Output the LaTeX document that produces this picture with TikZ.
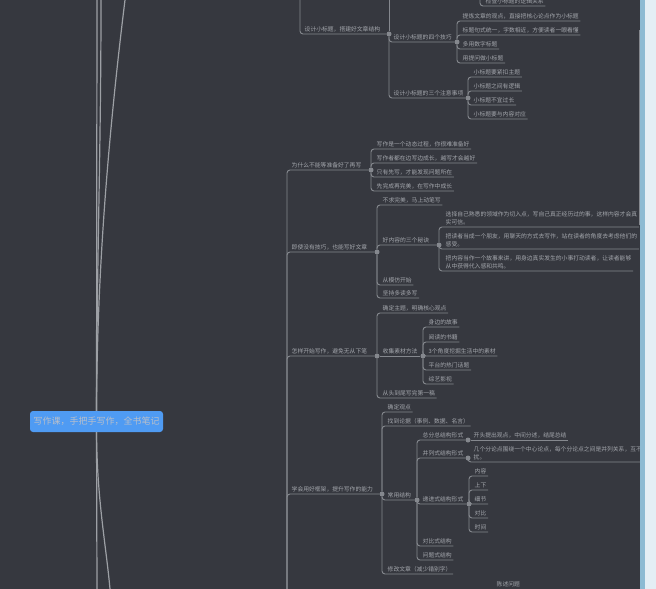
\documentclass[tikz,border=0pt]{standalone}
\usepackage{fontspec}
\newfontfamily\cjk{Noto Sans CJK SC}
\definecolor{canvas}{HTML}{36383F}
\definecolor{branchline}{HTML}{85888E}
\definecolor{topictext}{HTML}{A4A7AD}
\definecolor{rootblue}{HTML}{4F9BF3}
\definecolor{roottext}{HTML}{B9BFCA}
\definecolor{trackblue}{HTML}{8CBAD3}
\definecolor{trackpale}{HTML}{E4EEF5}
\tikzset{
  topic/.style={anchor=south west, inner xsep=1.5pt, inner ysep=2pt, align=left,
    text=topictext, font=\cjk\fontsize{5.8}{8}\selectfont},
  link/.style={draw=branchline, line width=0.9pt, rounded corners=3pt},
  joint/.style={circle, fill=branchline, inner sep=0pt, minimum size=5pt},
  central/.style={fill=rootblue, rounded corners=3pt, minimum width=133pt, minimum height=21pt,
    text=roottext, font=\cjk\fontsize{9}{10}\selectfont},
  rootlink/.style={draw=branchline!80!white, line width=1.2pt}
}
\begin{document}
\begin{tikzpicture}[x=1pt, y=-1pt]
  \useasboundingbox (0,0) rectangle (656,589);
  \clip (0,0) rectangle (656,589);
  \fill[canvas] (0,0) rectangle (656,589);

  % central topic, its other branches run off the page
  \node[central] (root) at (96.5,421.5) {写作课，手把手写作，全书笔记};
  \coordinate (upA) at (97,0);
  \coordinate (upB) at (101,0);
  \coordinate (upC) at (125,0);
  \coordinate (dnA) at (97,589);
  \coordinate (dnB) at (110,589);
  \draw[rootlink] (root.north) -- (upA);
  \draw[rootlink] (root.north) .. controls (97,250) and (101,150) .. (upB);
  \draw[rootlink] (root.north) .. controls (97,300) and (104,170) .. (upC);
  \draw[rootlink] (root.south) -- (dnA);
  \draw[rootlink] (root.south) .. controls (97,500) and (106,545) .. (dnB);

  % top: subtitles
  \coordinate (upT) at (480,0);
  \node[topic] (T0) at (484,6) {检查小标题的逻辑关系};
  \draw[link] (upT) |- (T0.south east);

  \coordinate (upS) at (300,0);
  \coordinate (upS2) at (389,0);
  \node[topic] (A) at (303,34) {设计小标题，搭建好文章结构};
  \node[joint] (dA) at (389,34) {};
  \draw[link] (upS) |- (dA);
  \draw[link] (dA) -- (upS2);

  \node[topic] (A1) at (392,42) {设计小标题的四个技巧};
  \node[joint] (dA1) at (457,42) {};
  \draw[link] (dA) |- (dA1);
  \node[topic] (A1a) at (461,21) {提炼文章的观点，直接把核心论点作为小标题};
  \node[topic] (A1b) at (461,35) {标题句式统一，字数相近，方便读者一眼看懂};
  \node[topic] (A1c) at (461,49) {多用数字标题};
  \node[topic] (A1d) at (461,63) {用提问做小标题};
  \draw[link] (dA1) |- (A1a.south east);
  \draw[link] (dA1) |- (A1b.south east);
  \draw[link] (dA1) |- (A1c.south east);
  \draw[link] (dA1) |- (A1d.south east);

  \node[topic] (A2) at (392,98) {设计小标题的三个注意事项};
  \node[joint] (dA2) at (468,98) {};
  \draw[link] (dA) |- (dA2);
  \node[topic] (A2a) at (472,77) {小标题要紧扣主题};
  \node[topic] (A2b) at (472,91) {小标题之间有逻辑};
  \node[topic] (A2c) at (472,105) {小标题不宜过长};
  \node[topic] (A2d) at (472,119) {小标题要与内容对应};
  \draw[link] (dA2) |- (A2a.south east);
  \draw[link] (dA2) |- (A2b.south east);
  \draw[link] (dA2) |- (A2c.south east);
  \draw[link] (dA2) |- (A2d.south east);

  % main branch
  \coordinate (base) at (287,589);

  \node[topic] (B) at (290,170) {为什么不能等准备好了再写};
  \node[joint] (dB) at (371,170) {};
  \draw[link] (base) |- (dB);
  \node[topic] (B1) at (375,149) {写作是一个动态过程，你很难准备好};
  \node[topic] (B2) at (375,163) {写作者都在边写边成长，越写才会越好};
  \node[topic] (B3) at (375,177) {只有先写，才能发现问题所在};
  \node[topic] (B4) at (375,191) {先完成再完美，在写作中成长};
  \draw[link] (dB) |- (B1.south east);
  \draw[link] (dB) |- (B2.south east);
  \draw[link] (dB) |- (B3.south east);
  \draw[link] (dB) |- (B4.south east);

  \node[topic] (C) at (290,252) {即使没有技巧，也能写好文章};
  \node[joint] (dC) at (377,252) {};
  \draw[link] (base) |- (dC);
  \node[topic] (C1) at (381,205) {不求完美，马上动笔写};
  \node[topic] (C2) at (381,245) {好内容的三个秘诀};
  \node[joint] (dC2) at (439,245) {};
  \node[topic] (C3) at (381,285) {从模仿开始};
  \node[topic] (C4) at (381,298) {坚持多读多写};
  \draw[link] (dC) |- (C1.south east);
  \draw[link] (dC) |- (dC2);
  \draw[link] (dC) |- (C3.south east);
  \draw[link] (dC) |- (C4.south east);
  \node[topic] (C2a) at (444,227) {选择自己熟悉的领域作为切入点，写自己真正经历过的事，这样内容才会真\\实可信。};
  \node[topic] (C2b) at (444,249) {把读者当成一个朋友，用聊天的方式去写作，站在读者的角度去考虑他们的\\感受。};
  \node[topic] (C2c) at (444,271) {把内容当作一个故事来讲，用身边真实发生的小事打动读者，让读者能够\\从中获得代入感和共鸣。};
  \draw[link] (dC2) |- (C2a.south east);
  \draw[link] (dC2) |- (C2b.south east);
  \draw[link] (dC2) |- (C2c.south east);

  \node[topic] (D) at (290,356) {怎样开始写作，避免无从下笔};
  \node[joint] (dD) at (377,356) {};
  \draw[link] (base) |- (dD);
  \node[topic] (D1) at (381,313) {确定主题，明确核心观点};
  \node[topic] (D2) at (381,356) {收集素材方法};
  \node[joint] (dD2) at (423,356) {};
  \node[topic] (D3) at (381,398) {从头到尾写完第一稿};
  \draw[link] (dD) |- (D1.south east);
  \draw[link] (dD) -- (dD2);
  \draw[link] (dD) |- (D3.south east);
  \node[topic] (D2a) at (427,327) {身边的故事};
  \node[topic] (D2b) at (427,342) {阅读的书籍};
  \node[topic] (D2c) at (427,356) {3个角度挖掘生活中的素材};
  \node[topic] (D2d) at (427,370) {平台的热门话题};
  \node[topic] (D2e) at (427,384) {综艺影视};
  \draw[link] (dD2) |- (D2a.south east);
  \draw[link] (dD2) |- (D2b.south east);
  \draw[link] (dD2) |- (D2c.south east);
  \draw[link] (dD2) |- (D2d.south east);
  \draw[link] (dD2) |- (D2e.south east);

  \node[topic] (E) at (290,494) {学会用好框架，提升写作的能力};
  \node[joint] (dE) at (382,494) {};
  \draw[link] (base) |- (dE);
  \node[topic] (E1) at (386,412) {确定观点};
  \node[topic] (E2) at (386,426) {找到论据（事例、数据、名言）};
  \node[topic] (E3) at (386,500) {常用结构};
  \node[joint] (dE3) at (417,500) {};
  \node[topic] (E4) at (386,574) {修改文章（减少错别字）};
  \draw[link] (dE) |- (E1.south east);
  \draw[link] (dE) |- (E2.south east);
  \draw[link] (dE) |- (dE3);
  \draw[link] (dE) |- (E4.south east);

  \node[topic] (E3a) at (421,440) {总分总结构形式};
  \node[joint] (dE3a) at (468,440) {};
  \node[topic] (E3b) at (421,458) {并列式结构形式};
  \node[joint] (dE3b) at (468,458) {};
  \node[topic] (E3c) at (421,504) {递进式结构形式};
  \node[joint] (dE3c) at (469,504) {};
  \node[topic] (E3d) at (421,546) {对比式结构};
  \node[topic] (E3e) at (421,560) {问题式结构};
  \draw[link] (dE3) |- (dE3a);
  \draw[link] (dE3) |- (dE3b);
  \draw[link] (dE3) |- (dE3c);
  \draw[link] (dE3) |- (E3d.south east);
  \draw[link] (dE3) |- (E3e.south east);

  \node[topic] (E3a1) at (472,440) {开头提出观点，中间分述，结尾总结};
  \draw[link] (dE3a) -- (E3a1.south east);
  \node[topic] (E3b1) at (472,462) {几个分论点围绕一个中心论点，每个分论点之间是并列关系，互不干\\扰。};
  \draw[link] (dE3b) |- (E3b1.south east);
  \node[topic] (E3c1) at (473,476) {内容};
  \node[topic] (E3c2) at (473,490) {上下};
  \node[topic] (E3c3) at (473,504) {细节};
  \node[topic] (E3c4) at (473,518) {对比};
  \node[topic] (E3c5) at (473,532) {时间};
  \draw[link] (dE3c) |- (E3c1.south east);
  \draw[link] (dE3c) |- (E3c2.south east);
  \draw[link] (dE3c) |- (E3c3.south east);
  \draw[link] (dE3c) |- (E3c4.south east);
  \draw[link] (dE3c) |- (E3c5.south east);

  % bottom, next branch
  \node[topic] (F) at (495,589) {陈述问题};
  \draw[link] (F.south west) -- (F.south east);

  % scroll bar
  \fill[trackblue] (640,0) rectangle (645,589);
  \fill[trackpale] (645,0) rectangle (656,589);
  \draw[branchline, line width=0.8pt] (639.6,30) -- (639.6,225);
\end{tikzpicture}
\end{document}
